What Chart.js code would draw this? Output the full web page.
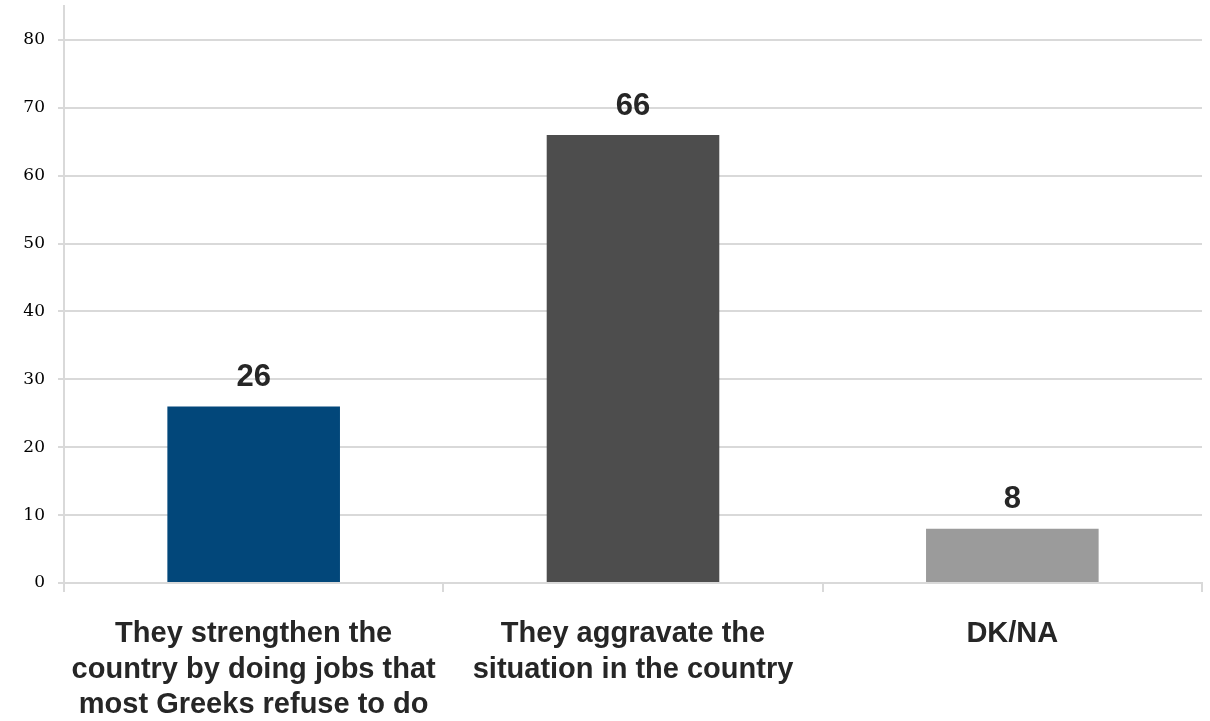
<!DOCTYPE html>
<html>
<head>
<meta charset="utf-8">
<script src="https://cdn.jsdelivr.net/npm/chart.js@4/dist/chart.umd.min.js"></script>
<style>
    html, body { margin: 0; padding: 0; background: #fff; }
    #wrap { width: 1210px; height: 721px; position: relative; }
</style>
</head>
<body>
<div id="wrap"><canvas id="barChart"></canvas></div>
<script>
// データ
const categories = [
    ["They strengthen the", "country by doing jobs that", "most Greeks refuse to do"],
    ["They aggravate the", "situation in the country"],
    ["DK/NA"],
];
const values = [26, 66, 8];
const barColors = ["#02477a", "#4d4d4d", "#9b9b9b"];
const yTicks = [0, 10, 20, 30, 40, 50, 60, 70, 80];

const labelFont = "'Liberation Sans Narrow', 'Arial Narrow', 'Liberation Sans', Arial, sans-serif";

// 棒の上に値を表示
const valueLabels = {
    id: "valueLabels",
    afterDatasetsDraw(chart) {
        const ctx = chart.ctx;
        const meta = chart.getDatasetMeta(0);
        ctx.save();
        ctx.font = "bold 31px " + labelFont;
        ctx.fillStyle = "#262626";
        ctx.textAlign = "center";
        ctx.textBaseline = "middle";
        meta.data.forEach((bar, i) => {
            ctx.fillText(String(values[i]), bar.x, bar.y - 29);
        });
        ctx.restore();
    },
};

const ctx = document.getElementById("barChart").getContext("2d");
new Chart(ctx, {
    type: "bar",
    data: {
        labels: categories,
        datasets: [
            {
                data: values,
                backgroundColor: barColors,
                barPercentage: 0.455,
                categoryPercentage: 1,
            },
        ],
    },
    options: {
        responsive: true,
        maintainAspectRatio: false,
        animation: false,
        layout: { padding: { left: 0, right: 8, top: 6, bottom: 0 } },
        plugins: {
            legend: { display: false },
            tooltip: { enabled: false },
        },
        scales: {
            x: {
                offset: true,
                grid: {
                    offset: true,
                    drawOnChartArea: false,
                    drawTicks: true,
                    tickLength: 9,
                    color: "#d9d9d9",
                    lineWidth: 2,
                },
                border: { color: "#d9d9d9", width: 2 },
                ticks: {
                    color: "#262626",
                    font: { family: labelFont, size: 29, weight: "bold", lineHeight: 1.23 },
                    padding: 24,
                    maxRotation: 0,
                    autoSkip: false,
                },
                afterFit: (scale) => {
                    scale.height = 138;
                },
            },
            y: {
                min: 0,
                max: 85,
                ticks: {
                    stepSize: 10,
                    includeBounds: false,
                    color: "#000",
                    padding: 13,
                    font: { family: "'DejaVu Serif', 'Liberation Serif', serif", size: 17 },
                    callback: (v) => (yTicks.includes(v) ? String(v) : ""),
                },
                grid: {
                    color: "#d9d9d9",
                    lineWidth: 2,
                    tickLength: 6,
                },
                border: { color: "#d9d9d9", width: 2 },
                afterFit: (scale) => {
                    scale.width = 64;
                    scale.paddingTop = 0;
                },
            },
        },
    },
    plugins: [valueLabels],
});
</script>
</body>
</html>
